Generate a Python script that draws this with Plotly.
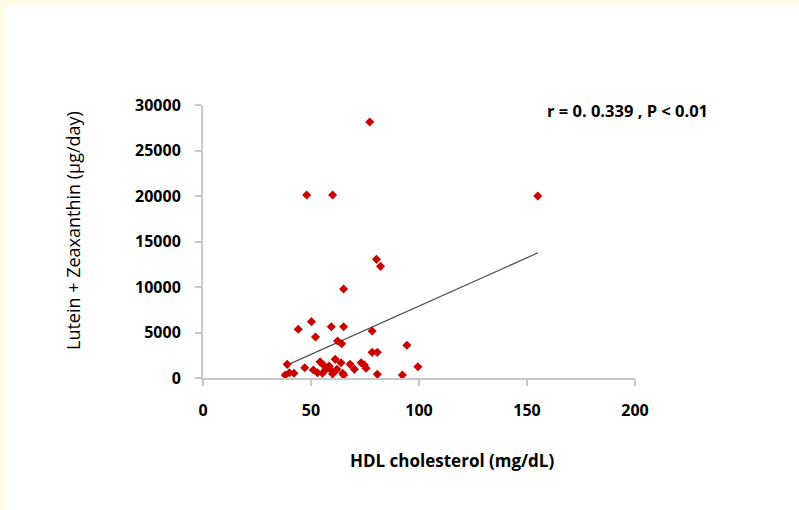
import plotly.graph_objects as go

# HDL cholesterol (mg/dL)
hdl = [38.1, 40.0, 42.1, 39.0, 44.1, 47.1, 50.2, 52.1, 51.1, 53.0,
       54.2, 55.3, 55.3, 56.9, 58.4, 59.2, 59.4, 60.0, 61.2, 62.0,
       62.3, 63.9, 64.2, 64.7, 65.1, 65.1, 68.1, 70.1, 73.2, 74.7,
       75.5, 78.3, 78.3, 80.7, 80.7, 77.2, 48.0, 60.0, 80.3, 82.2,
       65.1, 92.3, 94.4, 99.5, 155.0]
# Lutein + Zeaxanthin (ug/day)
lz = [330, 580, 520, 1500, 5350, 1130, 6190, 4500, 880, 580,
      1790, 1540, 520, 950, 1320, 880, 5640, 440, 2050, 950,
      4070, 1680, 3770, 520, 5640, 330, 1500, 950, 1680, 1430,
      1070, 5160, 2820, 2820, 400, 28130, 20110, 20110, 13040, 12270,
      9780, 330, 3600, 1240, 20000]

trend_x = [38.1, 155.0]
trend_y = [1330, 13750]

x_ticks = [0, 50, 100, 150, 200]
y_ticks = [0, 5000, 10000, 15000, 20000, 25000, 30000]

W, H = 799, 510
L, R, T, B = 203, 164, 105, 132
pw, ph = W - L - R, H - T - B

fig = go.Figure()
fig.add_trace(go.Scatter(x=trend_x, y=trend_y, mode="lines",
                         line=dict(color="#505050", width=1.2), hoverinfo="skip"))
fig.add_trace(go.Scatter(x=hdl, y=lz, mode="markers",
                         marker=dict(symbol="diamond", size=7, color="#CC0000",
                                     line=dict(width=0))))

font_main = "Open Sans"
axis_common = dict(showgrid=False, zeroline=False, showline=True,
                   linecolor="#c8c8c8", linewidth=2, ticks="outside",
                   tickcolor="#c8c8c8", tickwidth=1.5, ticklen=6,
                   tickformat="d",
                   tickfont=dict(family=font_main, size=16, color="#000000", weight="bold"))

fig.update_layout(
    width=W, height=H,
    margin=dict(l=L, r=R, t=T, b=B, pad=0),
    paper_bgcolor="white", plot_bgcolor="white",
    showlegend=False,
    xaxis=dict(range=[0, 200], tickvals=x_ticks, ticklabelstandoff=11, **axis_common),
    yaxis=dict(range=[0, 30000], tickvals=y_ticks, ticklabelstandoff=11, **axis_common),
)

def px2x(p):
    return (p - L) / pw

def py2y(p):
    return (H - B - p) / ph

fig.add_annotation(text="HDL cholesterol (mg/dL)", xref="paper", yref="paper",
                   x=px2x(452), y=py2y(460), showarrow=False,
                   xanchor="center", yanchor="middle",
                   font=dict(family=font_main, size=17, color="#000000", weight="bold"))
fig.add_annotation(text="Lutein + Zeaxanthin (μg/day)", xref="paper", yref="paper",
                   x=px2x(73), y=py2y(231), showarrow=False, textangle=-90,
                   xanchor="center", yanchor="middle",
                   font=dict(family=font_main, size=18, color="#000000"))
fig.add_annotation(text="r = 0. 0.339 , P < 0.01", xref="paper", yref="paper",
                   x=px2x(627), y=py2y(110), showarrow=False,
                   xanchor="center", yanchor="middle",
                   font=dict(family=font_main, size=16.5, color="#000000", weight="bold"))

# cream border strips (top and left)
fig.add_shape(type="rect", xref="paper", yref="paper", layer="below",
              x0=px2x(0), x1=px2x(W), y0=py2y(0), y1=py2y(5),
              fillcolor="#FFFBE6", line=dict(width=0))
fig.add_shape(type="rect", xref="paper", yref="paper", layer="below",
              x0=px2x(0), x1=px2x(5), y0=py2y(0), y1=py2y(H),
              fillcolor="#FFFBE6", line=dict(width=0))

fig.write_html("out.html")
